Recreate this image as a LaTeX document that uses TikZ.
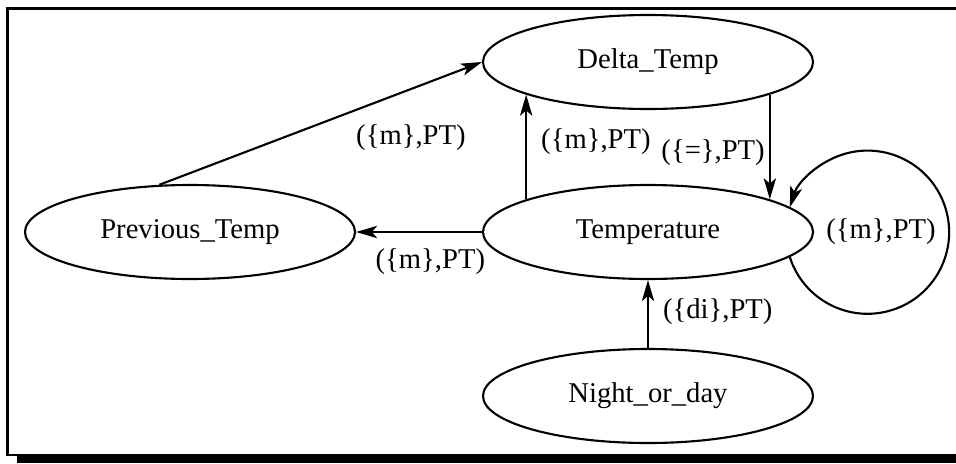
\documentclass[tikz,border=0pt]{standalone}
\usepackage{fontspec}
\setmainfont{Liberation Serif}
\usetikzlibrary{arrows.meta,positioning,shapes.geometric}

\begin{document}
\begin{tikzpicture}[->,>={Stealth[length=12pt,width=7pt,inset=3pt]},
                    on grid,line width=1.2pt,
                    font=\fontsize{16.3}{19}\selectfont]
    \tikzset{
      var/.style={
        ellipse,
        draw,
        minimum width=6.6cm,
        minimum height=1.88cm,
        inner sep=0pt
      },
      lbl/.style={
        inner sep=0pt
      }
    }

    \useasboundingbox (-12.96,-4.62) rectangle (6.16,4.64);

    % Frame with shadow
    \draw [-] (-12.81,-4.46) rectangle (7,4.47);
    \fill (-12.62,-4.62) rectangle (6.16,-4.48);

    % Variables
    \node [var] (temp)                        {Temperature};
    \node [var] (delta) [above=3.4cm of temp]  {Delta\_Temp};
    \node [var] (night) [below=3.28cm of temp] {Night\_or\_day};
    \node [var] (prev)  [left=9.16cm of temp]  {Previous\_Temp};

    % Dependencies
    \path
        (prev.123)  edge node [lbl, pos=0.78, below=0.7cm]  {(\{m\},PT)} (delta.west)
        (temp.165)  edge node [lbl, pos=0.55, right=0.28cm] {(\{m\},PT)} (delta.195)
        (delta.345) edge node [lbl, pos=0.55, left=0.08cm]  {(\{=\},PT)} (temp.15)
        (temp.west) edge node [lbl, pos=0.41, below=0.32cm] {(\{m\},PT)} (prev.east)
        (night.north) edge node [lbl, pos=0.53, right=0.28cm] {(\{di\},PT)} (temp.south);

    % Self loop
    \draw (temp.-10) arc [start angle=-162.3, end angle=162.3, radius=1.632cm];
    \node [lbl] (looplbl) [right=4.66cm of temp] {(\{m\},PT)};
\end{tikzpicture}
\end{document}
